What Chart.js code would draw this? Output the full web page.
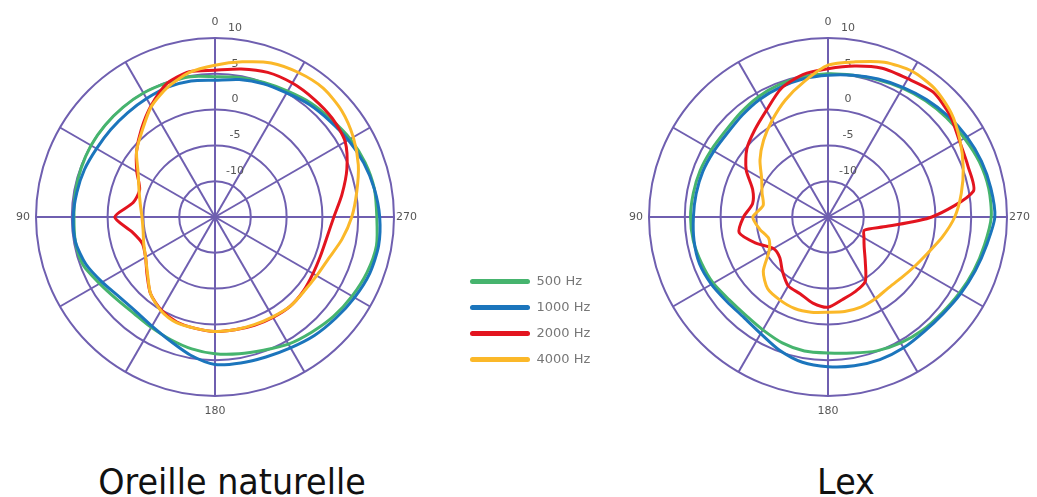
<!DOCTYPE html>
<html>
<head>
<meta charset="utf-8">
<script src="https://cdn.jsdelivr.net/npm/chart.js@4.4.1/dist/chart.umd.min.js"></script>
<style>
  body { margin: 0; background: #fff; width: 1037px; height: 497px; overflow: hidden; position: relative; }
  canvas { position: absolute; }
  #chart-oreille { left: 15px; top: 15px; }
  #chart-lex { left: 628px; top: 15px; }
  #legende { left: 457px; top: 262px; }
  .titre { position: absolute; top: 462px; width: 300px; font-family: "DejaVu Sans"; font-size: 35px; color: #111; text-align: center; white-space: nowrap; transform: scaleX(0.955); }
</style>
</head>
<body>
<canvas id="chart-oreille" width="404" height="404"></canvas>
<canvas id="chart-lex" width="404" height="404"></canvas>
<canvas id="legende" width="320" height="140"></canvas>
<div class="titre" style="left:82px">Oreille naturelle</div>
<div class="titre" style="left:696px">Lex</div>
<script>
// angles du relevé (degrés, sens anti-horaire, 0 en haut)
const angles = [0, 10, 20, 30, 40, 50, 60, 70, 80, 90, 100, 110, 120, 130, 140, 150, 160, 170,
                180, 190, 200, 210, 220, 230, 240, 250, 260, 270, 280, 290, 300, 310, 320, 330, 340, 350];
const spokes = [0, 30, 60, 90, 120, 150, 180, 210, 240, 270, 300, 330];
const axisLabels = [0, 90, 180, 270];
const tickLabels = [-10, -5, 0, 5, 10];
const frequencies = ["500 Hz", "1000 Hz", "2000 Hz", "4000 Hz"];
const colors = ["#46b46e", "#1b75bc", "#e3141f", "#fbb829"];
const gridColor = "#6f5fb0";

// Oreille naturelle (dB)
const oreille500 = [4.6, 4.9, 4.9, 5.0, 5.0, 5.0, 5.0, 4.9, 4.8, 4.7, 4.8, 4.6, 3.6, 2.9, 2.6, 2.8, 3.2, 3.7,
                    4.1, 4.4, 4.8, 5.5, 6.0, 6.6, 7.1, 7.6, 7.9, 7.6, 7.6, 7.3, 6.8, 6.2, 5.8, 5.3, 5.0, 4.8];
const oreille1000 = [4.1, 4.3, 4.3, 4.1, 4.0, 4.0, 4.1, 4.4, 4.6, 4.8, 4.8, 4.2, 3.2, 2.4, 2.2, 2.6, 3.4, 4.6,
                     5.6, 5.7, 5.8, 6.1, 6.6, 7.0, 7.5, 8.0, 8.2, 8.0, 7.6, 7.1, 6.5, 5.9, 5.5, 5.0, 4.8, 4.5];
const oreille2000 = [5.5, 5.6, 4.8, 2.9, 1.0, -0.7, -2.4, -3.8, -3.4, -1.0, -3.2, -4.2, -3.8, -2.6, -1.0, 0.0, 0.6, 0.8,
                     1.0, 1.0, 1.1, 1.2, 1.3, 1.1, 0.8, 0.7, 0.9, 1.6, 3.0, 4.6, 6.0, 6.4, 6.5, 6.6, 6.5, 6.0];
const oreille4000 = [6.2, 5.5, 4.3, 2.8, 0.8, -0.7, -2.6, -3.7, -4.4, -4.8, -4.8, -4.4, -3.8, -2.7, -1.0, 0.1, 0.7, 0.8,
                     1.0, 1.0, 1.0, 1.1, 1.3, 1.2, 1.4, 1.9, 3.0, 4.1, 5.1, 6.3, 7.3, 8.1, 8.5, 8.3, 7.9, 7.0];

// Lex (dB)
const lex500 = [5.0, 4.9, 4.7, 4.4, 4.0, 3.7, 3.8, 4.0, 4.1, 4.2, 4.1, 3.8, 3.5, 3.0, 2.9, 3.2, 3.7, 4.0,
                4.0, 4.3, 4.9, 5.3, 5.6, 5.8, 6.2, 6.7, 7.2, 7.8, 7.8, 7.5, 7.0, 6.6, 6.2, 5.8, 5.4, 5.1];
const lex1000 = [4.8, 4.6, 4.3, 4.0, 3.6, 3.3, 3.4, 3.6, 3.7, 3.8, 4.0, 4.1, 3.8, 3.4, 3.3, 3.8, 4.8, 5.6,
                 5.9, 6.1, 6.2, 6.1, 5.9, 6.0, 6.4, 6.9, 7.5, 8.3, 8.1, 7.8, 7.4, 6.9, 6.4, 5.9, 5.5, 5.1];
const lex2000 = [5.7, 5.2, 4.1, 2.2, 0.9, -0.2, -1.8, -3.8, -4.3, -3.2, -2.4, -4.3, -6.2, -6.2, -5.1, -3.9, -3.6, -2.8,
                 -2.4, -3.3, -3.9, -4.6, -6.9, -8.4, -9.2, -9.6, -7.1, -0.5, 5.6, 5.8, 6.2, 7.2, 7.8, 7.3, 7.1, 6.4];
const lex4000 = [6.2, 4.2, 2.4, 0.6, -1.0, -2.6, -4.3, -5.2, -5.8, -4.5, -5.3, -6.2, -5.5, -3.2, -1.9, -1.6, -1.4, -1.5,
                 -1.7, -1.6, -1.6, -1.8, -2.0, -1.7, -1.1, -0.2, 1.2, 2.7, 3.9, 5.1, 6.3, 7.5, 8.3, 8.5, 8.0, 7.0];

// Chart.js tourne dans le sens horaire : on remet les angles dans son ordre
const order = angles.map(a => angles.indexOf((360 - a) % 360));
const angleAt = index => angles[order[index]];
const labelPadding = { 0: 9, 90: 6, 180: 9, 270: 2 };

// graduations radiales, décalées à droite de l'axe vertical
const tickLabelPlugin = {
    id: "graduations",
    beforeDatasetsDraw(chart) {
        const scale = chart.scales.r;
        const ctx = chart.ctx;
        ctx.save();
        ctx.font = '11px "DejaVu Sans"';
        ctx.fillStyle = "#555";
        ctx.textAlign = "center";
        ctx.textBaseline = "middle";
        tickLabels.forEach(v => {
            const d = scale.getDistanceFromCenterForValue(v);
            ctx.fillText(String(v), scale.xCenter + 20, scale.yCenter - d - 10);
        });
        ctx.restore();
    }
};

function createPolar(id, series) {
    return new Chart(document.getElementById(id), {
        type: "radar",
        data: {
            labels: order.map(i => angles[i]),
            datasets: series.map((values, s) => ({
                label: frequencies[s],
                data: order.map(i => values[i]),
                borderColor: colors[s],
                borderWidth: 3,
                pointRadius: 0,
                fill: false,
                tension: 0.25,
                order: series.length - s
            }))
        },
        options: {
            responsive: false,
            animation: false,
            layout: { padding: 0 },
            plugins: {
                legend: { display: false },
                tooltip: { enabled: false }
            },
            scales: {
                r: {
                    min: -15,
                    max: 10,
                    ticks: { display: false, stepSize: 5 },
                    grid: { circular: true, color: gridColor, lineWidth: 2 },
                    angleLines: {
                        color: c => spokes.includes(angleAt(c.index)) ? gridColor : "rgba(0,0,0,0)",
                        lineWidth: c => spokes.includes(angleAt(c.index)) ? 2 : 0
                    },
                    pointLabels: {
                        callback: value => axisLabels.includes(value) ? String(value) : "",
                        font: { family: "DejaVu Sans", size: 11 },
                        color: "#555",
                        padding: c => labelPadding[angleAt(c.index)] ?? 6
                    }
                }
            }
        },
        plugins: [tickLabelPlugin]
    });
}

createPolar("chart-oreille", [oreille500, oreille1000, oreille2000, oreille4000]);
createPolar("chart-lex", [lex500, lex1000, lex2000, lex4000]);

// légende commune, entre les deux diagrammes
new Chart(document.getElementById("legende"), {
    type: "line",
    data: {
        labels: [],
        datasets: frequencies.map((f, s) => ({
            label: f,
            data: [],
            borderColor: colors[s],
            backgroundColor: colors[s],
            borderWidth: 0
        }))
    },
    options: {
        responsive: false,
        animation: false,
        scales: { x: { display: false }, y: { display: false } },
        plugins: {
            tooltip: { enabled: false },
            legend: {
                position: "left",
                align: "start",
                labels: {
                    boxWidth: 60,
                    boxHeight: 5,
                    padding: 13,
                    color: "#777",
                    font: { family: "DejaVu Sans", size: 13 },
                    useBorderRadius: true,
                    borderRadius: 2.5
                }
            }
        }
    }
});
</script>
</body>
</html>
